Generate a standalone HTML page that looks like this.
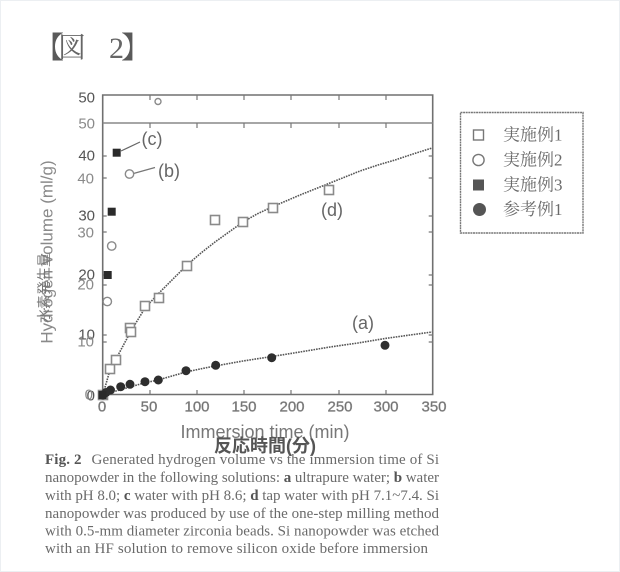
<!DOCTYPE html>
<html><head><meta charset="utf-8">
<style>
html,body{margin:0;padding:0;background:#fff;}
body{width:620px;height:572px;overflow:hidden;position:relative;}
svg{position:absolute;left:0;top:0;}
</style></head>
<body>
<svg width="620" height="572" viewBox="0 0 620 572" xmlns="http://www.w3.org/2000/svg">
<rect x="0.5" y="0.5" width="619" height="571" fill="#fff" stroke="#eceff2" stroke-width="1"/>
<!-- Title -->
<text x="34" y="58" font-family="'Liberation Serif','Noto Serif CJK SC',serif" font-size="30" fill="#5a5a5a">【</text>
<text x="58" y="57" font-family="'Liberation Serif','Noto Serif CJK SC',serif" font-size="28" fill="#666">図</text>
<text x="109" y="58" font-family="'Liberation Serif',serif" font-size="30" fill="#666">2</text>
<text x="121" y="58" font-family="'Liberation Serif','Noto Serif CJK SC',serif" font-size="30" fill="#5a5a5a">】</text>

<!-- Frame -->
<g stroke="#707070" stroke-width="1.6" fill="none">
<path d="M102.7,95 H432.7 V394.5 H102.7 Z"/>
<path d="M102.7,123 H432.7" stroke="#888"/>
</g>
<g stroke="#777" stroke-width="1.2">
<path d="M150,95v5M197,95v5M244,95v5M291,95v5M339,95v5M386,95v5"/>
<path d="M150,123v5M197,123v5M244,123v5M291,123v5M339,123v5M386,123v5"/>
<path d="M150,394v-4M197,394v-4M244,394v-4M291,394v-4M339,394v-4M386,394v-4"/>
<path d="M102.7,156h4M102.7,216h4M102.7,275h4M102.7,335h4M102.7,178h4M102.7,232h4M102.7,285h4M102.7,342h4"/>
<path d="M432.7,156h-4M432.7,216h-4M432.7,275h-4M432.7,335h-4M432.7,178h-4M432.7,232h-4M432.7,285h-4M432.7,342h-4"/>
</g>

<!-- Y labels scale A -->
<g font-family="'Liberation Sans',sans-serif" font-size="15" fill="#555" text-anchor="end" dominant-baseline="central">
<text x="95" y="98">50</text>
<text x="95" y="156">40</text>
<text x="95" y="216">30</text>
<text x="95" y="275">20</text>
<text x="95" y="335">10</text>
<text x="95" y="396">0</text>
</g>
<!-- Y labels scale B -->
<g font-family="'Liberation Sans',sans-serif" font-size="15" fill="#8a8a8a" text-anchor="end" dominant-baseline="central">
<text x="95" y="124">50</text>
<text x="94" y="179">40</text>
<text x="94" y="233">30</text>
<text x="94" y="285">20</text>
<text x="94" y="342">10</text>
<text x="93" y="395">0</text>
</g>

<!-- X labels -->
<g font-family="'Liberation Sans',sans-serif" font-size="15" fill="#6a6a6a" text-anchor="middle" dominant-baseline="central" stroke="#999" stroke-width="0.5">
<text x="102" y="407">0</text>
<text x="149" y="407">50</text>
<text x="197" y="407">100</text>
<text x="244" y="407">150</text>
<text x="292" y="407">200</text>
<text x="340" y="407">250</text>
<text x="386" y="407">300</text>
<text x="434" y="407">350</text>
</g>

<!-- Axis titles -->
<text x="265" y="432" font-family="'Liberation Sans',sans-serif" font-size="18" fill="#777" text-anchor="middle" dominant-baseline="central">Immersion time (min)</text>
<text x="265" y="446" font-family="'Liberation Sans','Noto Sans CJK JP',sans-serif" font-size="18" font-weight="bold" fill="#555" text-anchor="middle" dominant-baseline="central">反応時間(分)</text>
<g transform="translate(47,252) rotate(-90)">
<text x="0" y="0" font-family="'Liberation Sans',sans-serif" font-size="17" fill="#8a8a8a" text-anchor="middle" dominant-baseline="central">Hydrogen Volume (ml/g)</text>
</g>
<g transform="translate(44,288) rotate(-90)">
<text x="0" y="0" font-family="'Liberation Sans','Noto Sans CJK JP',sans-serif" font-size="14" fill="#777" text-anchor="middle" dominant-baseline="central">水素発生量</text>
</g>

<!-- Curves -->
<path d="M102.8,395 L110,370 L116,359 L131,331 L145,308 L159,293 L173,279 L187,265 L201,253 L215,242 L229,232 L243,222 L257,214 L272,207 L286,201 L300,195 L315,189 L330,183 L345,177 L360,171 L378,165 L395,160 L413,154 L432,148" fill="none" stroke="#555" stroke-width="1.6" stroke-dasharray="1.6,1"/>
<path d="M102.8,395 L116,391 L130,387 L144,383 L158,380 L172,376 L186,372 L200,369 L215,366 L243,361 L272,356.5 L300,352 L330,347 L358,343 L385,338.5 L410,335 L432,332" fill="none" stroke="#555" stroke-width="1.6" stroke-dasharray="1.6,1"/>

<!-- Leader lines and labels -->
<path d="M121,151 L140,142" stroke="#666" stroke-width="1.2"/>
<path d="M133.5,173.5 L155,167.5" stroke="#777" stroke-width="1.2"/>
<g font-family="'Liberation Sans',sans-serif" font-size="18" fill="#666" text-anchor="middle" dominant-baseline="central">
<text x="152" y="139">(c)</text>
<text x="169" y="171">(b)</text>
<text x="332" y="210">(d)</text>
<text x="363" y="323">(a)</text>
</g>

<!-- Open squares (d) -->
<g fill="#fff" stroke="#8a8a8a" stroke-width="1.6">
<rect x="98.5" y="390.5" width="9" height="9"/>
<rect x="105.5" y="364.5" width="9" height="9"/>
<rect x="111.5" y="355.5" width="9" height="9"/>
<rect x="125.5" y="323.5" width="9" height="9"/>
<rect x="126.5" y="327.5" width="9" height="9"/>
<rect x="140.5" y="301.5" width="9" height="9"/>
<rect x="154.5" y="293.5" width="9" height="9"/>
<rect x="182.5" y="261.5" width="9" height="9"/>
<rect x="210.5" y="215.5" width="9" height="9"/>
<rect x="238.5" y="217.5" width="9" height="9"/>
<rect x="268.5" y="203.5" width="9" height="9"/>
<rect x="324.5" y="185.5" width="9" height="9"/>
</g>
<!-- Open circles (b) -->
<g fill="#fff" stroke="#8a8a8a" stroke-width="1.4">
<circle cx="158" cy="101.5" r="3"/>
<circle cx="129.5" cy="174" r="4.2"/>
<circle cx="111.7" cy="246" r="4.2"/>
<circle cx="107.3" cy="301.5" r="4.2"/>
<circle cx="103" cy="395" r="4"/>
</g>
<!-- Filled circles (a) -->
<g fill="#2e2e2e">
<circle cx="103" cy="395" r="4.5"/>
<circle cx="106" cy="392.5" r="4.5"/>
<circle cx="110.5" cy="390" r="4.5"/>
<circle cx="120.7" cy="386.7" r="4.5"/>
<circle cx="130" cy="384.3" r="4.5"/>
<circle cx="145" cy="381.7" r="4.5"/>
<circle cx="158.3" cy="380" r="4.5"/>
<circle cx="186" cy="370.7" r="4.5"/>
<circle cx="215.7" cy="365.3" r="4.5"/>
<circle cx="271.7" cy="357.7" r="4.5"/>
<circle cx="385" cy="345.3" r="4.5"/>
</g>
<!-- Filled squares (c) -->
<g fill="#2a2a2a">
<rect x="112.7" y="148.7" width="8" height="8"/>
<rect x="107.7" y="207.7" width="8" height="8"/>
<rect x="103.7" y="271" width="8" height="8"/>
<rect x="98.5" y="391" width="8" height="8"/>
</g>

<!-- Legend -->
<rect x="460.5" y="112.5" width="122.5" height="120.5" fill="#fff" stroke="#777" stroke-width="1.4" stroke-dasharray="2,0.6"/>
<rect x="473.5" y="130" width="10" height="10" fill="#fff" stroke="#777" stroke-width="1.4"/>
<circle cx="478.5" cy="160" r="5.6" fill="#fff" stroke="#777" stroke-width="1.4"/>
<rect x="473" y="179.5" width="11" height="11" fill="#555"/>
<circle cx="479.5" cy="209.5" r="6.5" fill="#555"/>
<g font-family="'Liberation Serif','Noto Serif CJK SC',serif" font-size="17" fill="#6a6a6a" dominant-baseline="central">
<text x="503" y="135">実施例1</text>
<text x="503" y="160">実施例2</text>
<text x="503" y="185">実施例3</text>
<text x="503" y="209.5">参考例1</text>
</g>

<!-- Caption -->
<g font-family="'Liberation Serif',serif" font-size="15" fill="#6a6a6a">
<text x="45" y="464" textLength="394" lengthAdjust="spacing"><tspan font-weight="bold" fill="#555">Fig. 2</tspan><tspan dx="6"> Generated hydrogen volume vs the immersion time of Si</tspan></text>
<text x="45" y="482" textLength="394" lengthAdjust="spacing">nanopowder in the following solutions: <tspan font-weight="bold" fill="#555">a</tspan> ultrapure water; <tspan font-weight="bold" fill="#555">b</tspan> water</text>
<text x="45" y="500" textLength="394" lengthAdjust="spacing">with pH 8.0; <tspan font-weight="bold" fill="#555">c</tspan> water with pH 8.6; <tspan font-weight="bold" fill="#555">d</tspan> tap water with pH 7.1~7.4. Si</text>
<text x="45" y="518" textLength="394" lengthAdjust="spacing">nanopowder was produced by use of the one-step milling method</text>
<text x="45" y="535.5" textLength="394" lengthAdjust="spacing">with 0.5-mm diameter zirconia beads. Si nanopowder was etched</text>
<text x="45" y="553" textLength="383" lengthAdjust="spacing">with an HF solution to remove silicon oxide before immersion</text>
</g>
</svg>
</body></html>
